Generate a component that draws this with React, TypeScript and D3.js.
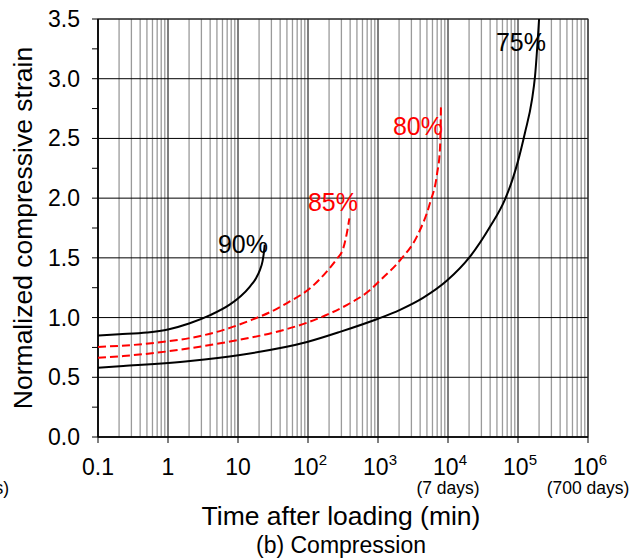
import React from 'react';
import * as d3 from 'd3';

// creep curves, time (min) vs normalized strain
const t90 = [0.1, 0.2, 0.5, 1, 2, 4, 7.7, 11, 14.8, 18.1, 20.6, 22.4, 23.5, 24.1];
const v90 = [0.85, 0.86, 0.875, 0.9, 0.95, 1.02, 1.11, 1.18, 1.26, 1.33, 1.4, 1.47, 1.55, 1.61];

const t85 = [0.1, 0.7, 2.9, 6.1, 14.8, 28.6, 55, 107, 185, 257, 319, 357, 390];
const v85 = [0.754, 0.79, 0.846, 0.895, 0.975, 1.045, 1.135, 1.245, 1.385, 1.49, 1.58, 1.7, 1.83];

const t80 = [0.1, 0.23, 2.06, 7.7, 39.8, 96.8, 206, 398, 769, 1068, 2063, 3605, 5533, 6966, 7690, 7943];
const v80 = [0.664, 0.678, 0.743, 0.8, 0.888, 0.957, 1.035, 1.12, 1.23, 1.31, 1.48, 1.68, 1.96, 2.2, 2.42, 2.78];

const t75 = [0.1, 0.23, 2.06, 10.7, 96.8, 286, 1000, 2063, 4394, 9680, 20600, 39800, 65200, 84900, 100000, 126000, 158000, 175000, 200000];
const v75 = [0.58, 0.594, 0.636, 0.687, 0.795, 0.88, 0.99, 1.065, 1.165, 1.31, 1.51, 1.76, 1.99, 2.17, 2.31, 2.55, 2.82, 3.02, 3.5];

const yTicks = [0, 0.5, 1, 1.5, 2, 2.5, 3, 3.5];
const xDecades = [0.1, 1, 10, 100, 1e3, 1e4, 1e5, 1e6];
const xLabels = ['0.1', '1', '10', '10|2', '10|3', '10|4', '10|5', '10|6'];
const dayNotes = [{ t: 1e4, text: '(7 days)' }, { t: 1e6, text: '(700 days)' }];

const series = [
  { t: t90, v: v90, color: '#000', dash: null, label: '90%', lx: 243, ly: 253 },
  { t: t85, v: v85, color: '#ff0000', dash: '8,4', label: '85%', lx: 333, ly: 211 },
  { t: t80, v: v80, color: '#ff0000', dash: '8,4', label: '80%', lx: 418, ly: 135 },
  { t: t75, v: v75, color: '#000', dash: null, label: '75%', lx: 521, ly: 51 },
];

const font = '"Liberation Sans", Arial, sans-serif';

export default function App() {
  const W = 638, H = 560;
  const left = 98, right = 588, top = 19, bottom = 437;

  const x = d3.scaleLog().domain([0.1, 1e6]).range([left, right]);
  const y = d3.scaleLinear().domain([0, 3.5]).range([bottom, top]);

  const minor: number[] = [];
  for (let i = 0; i < xDecades.length - 1; i++) {
    for (let k = 2; k <= 9; k++) minor.push(xDecades[i] * k);
  }
  const yMinor = d3.range(0.25, 3.5, 0.5);

  const line = d3.line<[number, number]>()
    .x(d => x(d[0]))
    .y(d => y(d[1]))
    .curve(d3.curveMonotoneX);

  return (
    <svg width={W} height={H} style={{ position: 'absolute', left: 0, top: 0, background: '#fff' }}
      fontFamily={font}>
      <rect x={0} y={0} width={W} height={H} fill="#fff" />
      {/* minor vertical grid */}
      {minor.map((m, i) => (
        <line key={'m' + i} x1={x(m)} x2={x(m)} y1={top} y2={bottom} stroke="#9a9a9a" strokeWidth={1.3} />
      ))}
      {/* horizontal grid */}
      {yTicks.map((t, i) => (
        <line key={'h' + i} x1={left} x2={right} y1={y(t)} y2={y(t)} stroke="#000" strokeWidth={1} />
      ))}
      {/* decade lines */}
      {xDecades.map((t, i) => (
        <line key={'d' + i} x1={x(t)} x2={x(t)} y1={top} y2={bottom} stroke="#000" strokeWidth={1} />
      ))}
      <rect x={left} y={top} width={right - left} height={bottom - top} fill="none" stroke="#333" strokeWidth={1} />
      <line x1={left} x2={left} y1={top} y2={bottom} stroke="#000" strokeWidth={1.6} />
      <line x1={left} x2={right} y1={bottom} y2={bottom} stroke="#000" strokeWidth={1.6} />

      {/* y ticks */}
      {yTicks.map((t, i) => (
        <g key={'yt' + i}>
          <line x1={left - 6} x2={left} y1={y(t)} y2={y(t)} stroke="#000" strokeWidth={1} />
          <text x={80} y={y(t) + 8} textAnchor="end" fontSize={23}>{t.toFixed(1)}</text>
        </g>
      ))}
      {yMinor.map((t, i) => (
        <line key={'ym' + i} x1={left - 6} x2={left} y1={y(t)} y2={y(t)} stroke="#000" strokeWidth={1} />
      ))}

      {/* x ticks */}
      {xDecades.map((t, i) => {
        const [base, sup] = xLabels[i].split('|');
        return (
          <g key={'xt' + i}>
            <line x1={x(t)} x2={x(t)} y1={bottom} y2={bottom + 6} stroke="#000" strokeWidth={1} />
            <text x={x(t) + (sup ? 2 : 0)} y={475} textAnchor="middle" fontSize={23}>
              {base}
              {sup && <tspan fontSize={15} dy={-10}>{sup}</tspan>}
            </text>
          </g>
        );
      })}
      {dayNotes.map((d, i) => (
        <text key={'dn' + i} x={x(d.t)} y={494} textAnchor="middle" fontSize={17.5}>{d.text}</text>
      ))}
      <text x={9} y={494} textAnchor="end" fontSize={17.5}>(0.007 days)</text>

      {/* curves */}
      {series.map((s, i) => (
        <path key={'c' + i}
          d={line(s.t.map((t, j) => [t, s.v[j]] as [number, number])) || ''}
          fill="none" stroke={s.color} strokeWidth={2}
          strokeDasharray={s.dash || undefined} />
      ))}
      {series.map((s, i) => (
        <text key={'l' + i} x={s.lx} y={s.ly} textAnchor="middle" fontSize={25} fill={s.color}>{s.label}</text>
      ))}

      {/* titles */}
      <text x={341} y={525} textAnchor="middle" fontSize={26.5}>Time after loading (min)</text>
      <text x={341} y={553} textAnchor="middle" fontSize={23}>(b) Compression</text>
      <text transform={`translate(32,${(top + bottom) / 2}) rotate(-90)`} textAnchor="middle" fontSize={26.5}>
        Normalized compressive strain
      </text>
    </svg>
  );
}
